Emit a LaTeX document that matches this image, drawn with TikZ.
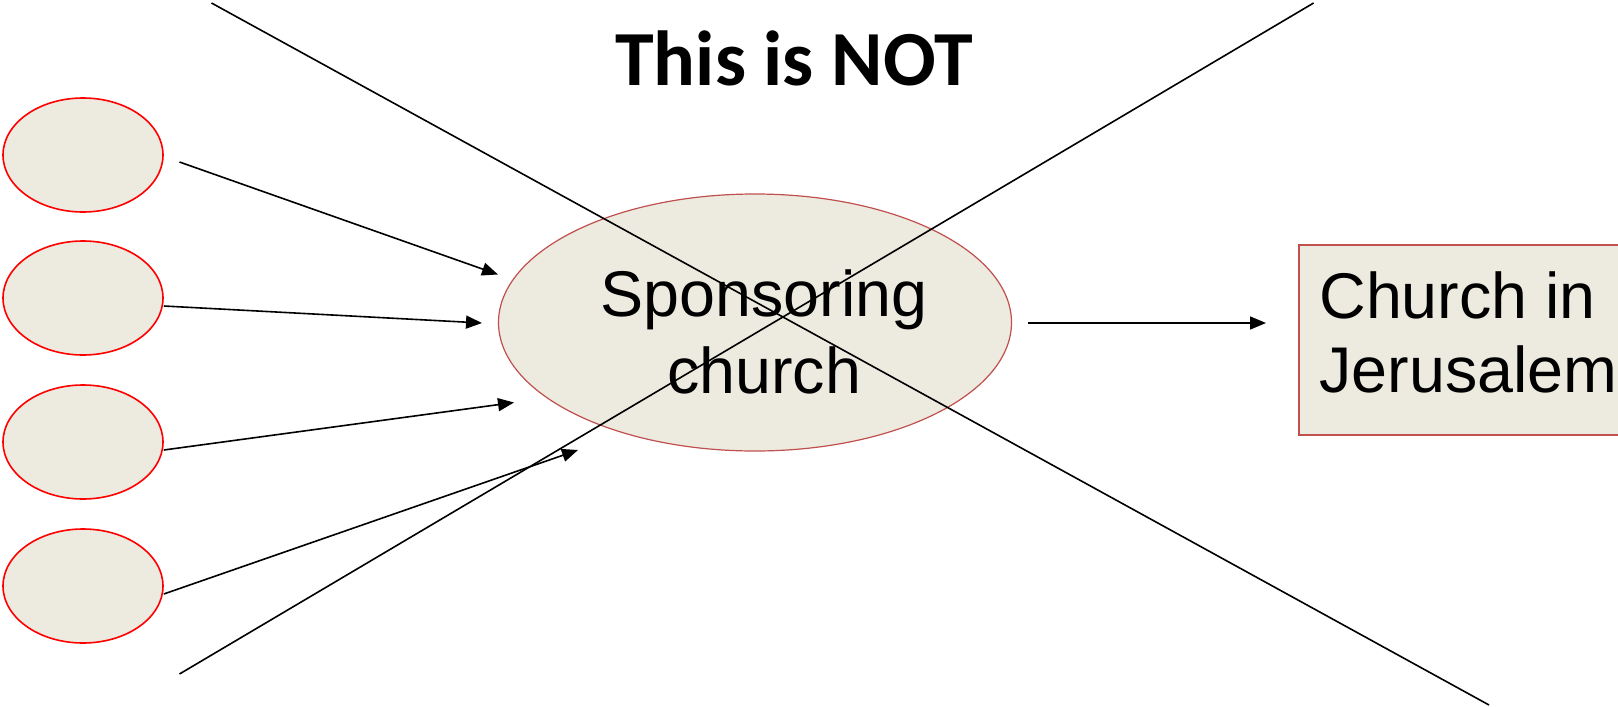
\documentclass[tikz,border=0pt]{standalone}
\usepackage{fontspec}
\setmainfont{Liberation Sans}
\newfontfamily\titlefont{Carlito}
\usetikzlibrary{arrows.meta,shapes.geometric}
\definecolor{fillc}{HTML}{EDEAE0}
\definecolor{bord}{HTML}{C0504D}
\begin{document}
\begin{tikzpicture}[x=0.5pt,y=-0.5pt,
  smallell/.style={ellipse,draw=red,line width=0.8pt,fill=fillc,minimum width=80pt,minimum height=57pt,inner sep=0pt},
  bigell/.style={ellipse,draw=bord,line width=0.6pt,fill=fillc,minimum width=256.5pt,minimum height=128.5pt,inner sep=0pt},
  txt/.style={font=\fontsize{32.3}{37}\selectfont,inner sep=0pt},
  conn/.style={line width=0.8pt,-{Triangle[length=8pt,width=6.5pt]}},
  crossline/.style={line width=0.8pt}]
\useasboundingbox (0,0) rectangle (1618,707);
\clip (0,0) rectangle (1618,707);
% small ellipses
\node[smallell] (e1) at (83,155) {};
\node[smallell] (e2) at (83,298) {};
\node[smallell] (e3) at (83,442) {};
\node[smallell] (e4) at (83,586) {};
% sponsoring church
\node[bigell] (sp) at (755,322.5) {};
\node[txt,anchor=base] (sp1) at (764,316) {Sponsoring};
\node[txt,anchor=base] (sp2) at (764,393) {church};
% Jerusalem box
\node[draw=bord,line width=0.75pt,fill=fillc,minimum width=163pt,minimum height=95pt,inner sep=0pt,anchor=north west] (jb) at (1298,244) {};
\node[txt,anchor=base west] (j1) at (1319,318) {Church in};
\node[txt,anchor=base west] (j2) at (1319,392) {Jerusalem};
% title
\node[font=\titlefont\bfseries\fontsize{39}{44}\selectfont,anchor=base,inner sep=0pt] (title) at (794,85) {This is NOT};
% arrow coordinates
\coordinate (a1s) at (179.5,162);  \coordinate (a1e) at (498,274.5);
\coordinate (a2e) at (482,323);
\coordinate (a3e) at (514,402.5);
\coordinate (a4e) at (578,450);
\coordinate (a5s) at (1028,323);   \coordinate (a5e) at (1266,323);
\draw[conn] (a1s) -- (a1e);
\draw[conn] (e2.east) ++(0,8) coordinate (a2s) (a2s) -- (a2e);
\draw[conn] (e3.east) ++(0,8) coordinate (a3s) (a3s) -- (a3e);
\draw[conn] (e4.east) ++(0,8) coordinate (a4s) (a4s) -- (a4e);
\draw[conn] (a5s) -- (a5e);
% cross lines
\coordinate (c1s) at (211.5,3); \coordinate (c1e) at (1489,705);
\coordinate (c2s) at (1313.6,3); \coordinate (c2e) at (179.5,674);
\draw[crossline] (c1s) -- (c1e);
\draw[crossline] (c2s) -- (c2e);
\end{tikzpicture}
\end{document}
